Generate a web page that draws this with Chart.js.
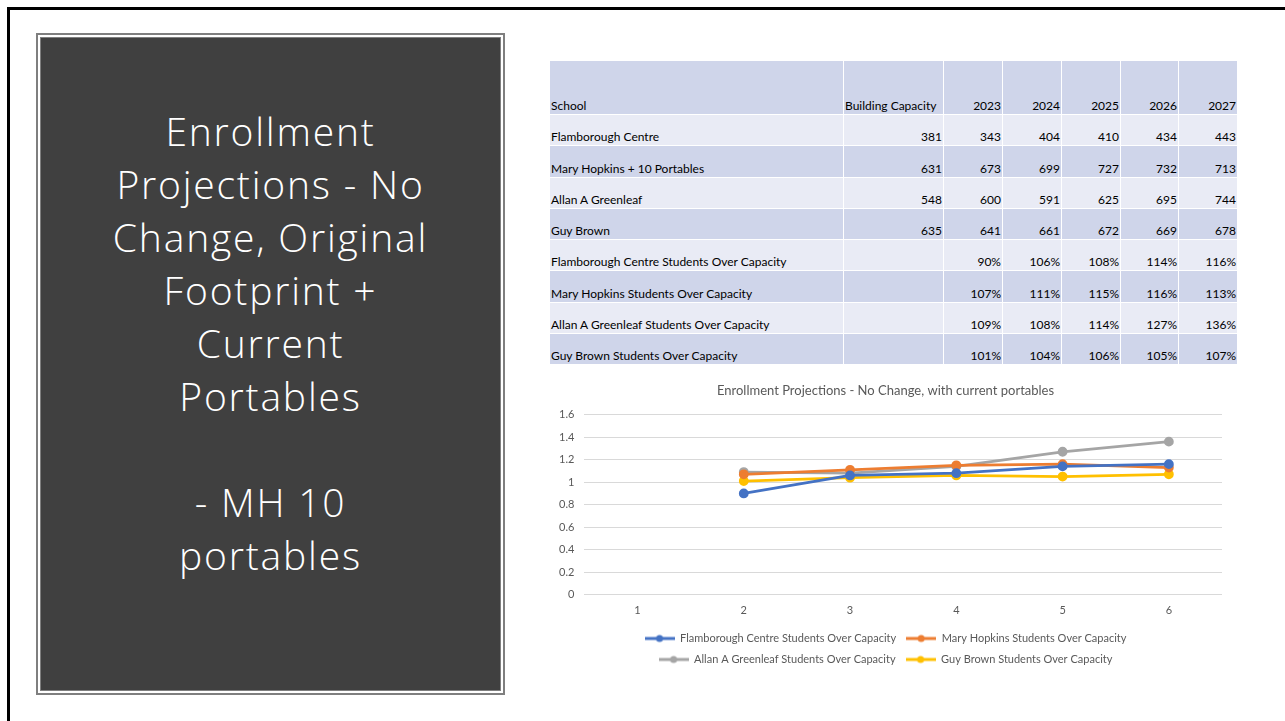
<!DOCTYPE html>
<html>
<head>
<meta charset="utf-8">
<script src="https://cdn.jsdelivr.net/npm/chart.js@4.4.0/dist/chart.umd.min.js"></script>
<style>
  html, body { margin: 0; padding: 0; background: #fff; }
  body { width: 1285px; height: 721px; position: relative; overflow: hidden; font-family: Lato, "Open Sans", sans-serif; }
  #slideBorder { position: absolute; left: 7px; top: 7px; width: 1300px; height: 730px; border-left: 3px solid #000; border-top: 3px solid #000; }
  #panelOuter { position: absolute; left: 36px; top: 33px; width: 465px; height: 658px; border: 2px solid #7f7f7f; background: #fff; }
  #panel { position: absolute; left: 2px; top: 2px; right: 2px; bottom: 2px; border: 1px solid #7f7f7f; background: #404040; }
  #panelTitle { position: absolute; left: 0; right: 0; top: 66px; text-align: center; color: #fff; font-family: "Open Sans", Lato, sans-serif; font-weight: 300; font-size: 39px; line-height: 53px; letter-spacing: 1.8px; }
  #tbl { position: absolute; left: 549px; top: 60px; border-collapse: collapse; table-layout: fixed; font-size: 12px; color: #000; }
  #tbl td { border: 1px solid #fff; padding: 0 1px 1px 1px; vertical-align: bottom; height: 29.3px; white-space: nowrap; overflow: hidden; }
  #tbl tr.head td { height: 52px; }
  #tbl tr.dark td { background: #cfd5ea; }
  #tbl tr.light td { background: #e9ebf5; }
  #tbl td.num { text-align: right; }
  #chartBox { position: absolute; left: 545px; top: 378px; width: 695px; height: 302px; }
</style>
</head>
<body>
<div id="slideBorder"></div>
<div id="panelOuter"><div id="panel">
  <div id="panelTitle">Enrollment<br>Projections - No<br>Change, Original<br>Footprint +<br>Current<br>Portables<br>&nbsp;<br>- MH 10<br>portables</div>
</div></div>

<table id="tbl">
  <colgroup><col style="width:294px"><col style="width:100px"><col style="width:59px"><col style="width:59px"><col style="width:59px"><col style="width:58px"><col style="width:59px"></colgroup>
  <tbody id="tblBody"></tbody>
</table>

<div id="chartBox"><canvas id="grafico"></canvas></div>

<script>
// dados da tabela
const anos = ['2023', '2024', '2025', '2026', '2027'];
const escolas = ['Flamborough Centre', 'Mary Hopkins + 10 Portables', 'Allan A Greenleaf', 'Guy Brown'];
const capacidade = [381, 631, 548, 635];
const matriculas = [
    [343, 404, 410, 434, 443],
    [673, 699, 727, 732, 713],
    [600, 591, 625, 695, 744],
    [641, 661, 672, 669, 678]
];

// dados do grafico (categoria 1 vazia)
const categorias = ['1', '2', '3', '4', '5', '6'];
const serieNomes = [
    'Flamborough Centre Students Over Capacity',
    'Mary Hopkins Students Over Capacity',
    'Allan A Greenleaf Students Over Capacity',
    'Guy Brown Students Over Capacity'
];
const flamborough = [null, 0.90, 1.06, 1.08, 1.14, 1.16];
const maryHopkins = [null, 1.07, 1.11, 1.15, 1.16, 1.13];
const allanGreenleaf = [null, 1.09, 1.08, 1.14, 1.27, 1.36];
const guyBrown = [null, 1.01, 1.04, 1.06, 1.05, 1.07];
const cores = ['#4472C4', '#ED7D31', '#A5A5A5', '#FFC000'];
const tituloGrafico = 'Enrollment Projections - No Change, with current portables';

function montarTabela() {
    const body = document.getElementById('tblBody');
    let html = '<tr class="head dark"><td>School</td><td>Building Capacity</td>' +
        anos.map(a => '<td class="num">' + a + '</td>').join('') + '</tr>';
    let n = 0;
    escolas.forEach((e, i) => {
        html += '<tr class="' + (n++ % 2 ? 'dark' : 'light') + '"><td>' + e + '</td><td class="num">' + capacidade[i] + '</td>' +
            matriculas[i].map(v => '<td class="num">' + v + '</td>').join('') + '</tr>';
    });
    const series = [flamborough, maryHopkins, allanGreenleaf, guyBrown];
    serieNomes.forEach((nome, i) => {
        html += '<tr class="' + (n++ % 2 ? 'dark' : 'light') + '"><td>' + nome + '</td><td></td>' +
            series[i].slice(1).map(v => '<td class="num">' + Math.round(v * 100) + '%</td>').join('') + '</tr>';
    });
    body.innerHTML = html;
}

function iconeLegenda(cor) {
    const c = document.createElement('canvas');
    c.width = 30; c.height = 10;
    const g = c.getContext('2d');
    g.strokeStyle = cor; g.lineWidth = 3;
    g.beginPath(); g.moveTo(0, 5); g.lineTo(30, 5); g.stroke();
    g.fillStyle = cor;
    g.beginPath(); g.arc(15, 5, 3.5, 0, Math.PI * 2); g.fill();
    return c;
}

function renderizarGrafico() {
    const ctx = document.getElementById('grafico').getContext('2d');
    const series = [flamborough, maryHopkins, allanGreenleaf, guyBrown];
    Chart.defaults.font.family = 'Lato, "Open Sans", sans-serif';
    Chart.defaults.color = '#595959';
    window.chart = new Chart(ctx, {
        type: 'line',
        data: {
            labels: categorias,
            datasets: series.map((s, i) => ({
                label: serieNomes[i], data: s,
                borderColor: cores[i], backgroundColor: cores[i],
                borderWidth: 2.8, pointRadius: 3.5, pointHoverRadius: 3.5,
                pointStyle: 'circle', tension: 0
            }))
        },
        options: {
            responsive: true, maintainAspectRatio: false, animation: false,
            layout: { padding: { left: 4, right: 18, top: 4, bottom: 5 } },
            plugins: {
                title: { display: true, text: tituloGrafico, font: { size: 13, weight: 'normal' }, padding: { top: 1, bottom: 16 } },
                legend: {
                    position: 'bottom',
                    labels: {
                        usePointStyle: true, pointStyleWidth: 30, boxHeight: 10, padding: 10,
                        font: { size: 11 },
                        generateLabels: chart => chart.data.datasets.map((d, i) => ({
                            text: d.label, pointStyle: iconeLegenda(cores[i]),
                            fillStyle: cores[i], strokeStyle: cores[i], lineWidth: 0, datasetIndex: i, fontColor: '#595959'
                        }))
                    }
                },
                tooltip: { enabled: false }
            },
            scales: {
                x: {
                    offset: true,
                    grid: { display: false },
                    border: { display: false },
                    ticks: { font: { size: 11 }, padding: 1 },
                    afterFit: s => { s.height += 5; }
                },
                y: {
                    min: 0, max: 1.6,
                    ticks: { stepSize: 0.2, font: { size: 11 }, padding: 10, callback: v => String(+v.toFixed(1)) },
                    grid: { color: '#d9d9d9', drawTicks: false },
                    border: { display: false }
                }
            }
        }
    });
}

montarTabela();
renderizarGrafico();
</script>
</body>
</html>
